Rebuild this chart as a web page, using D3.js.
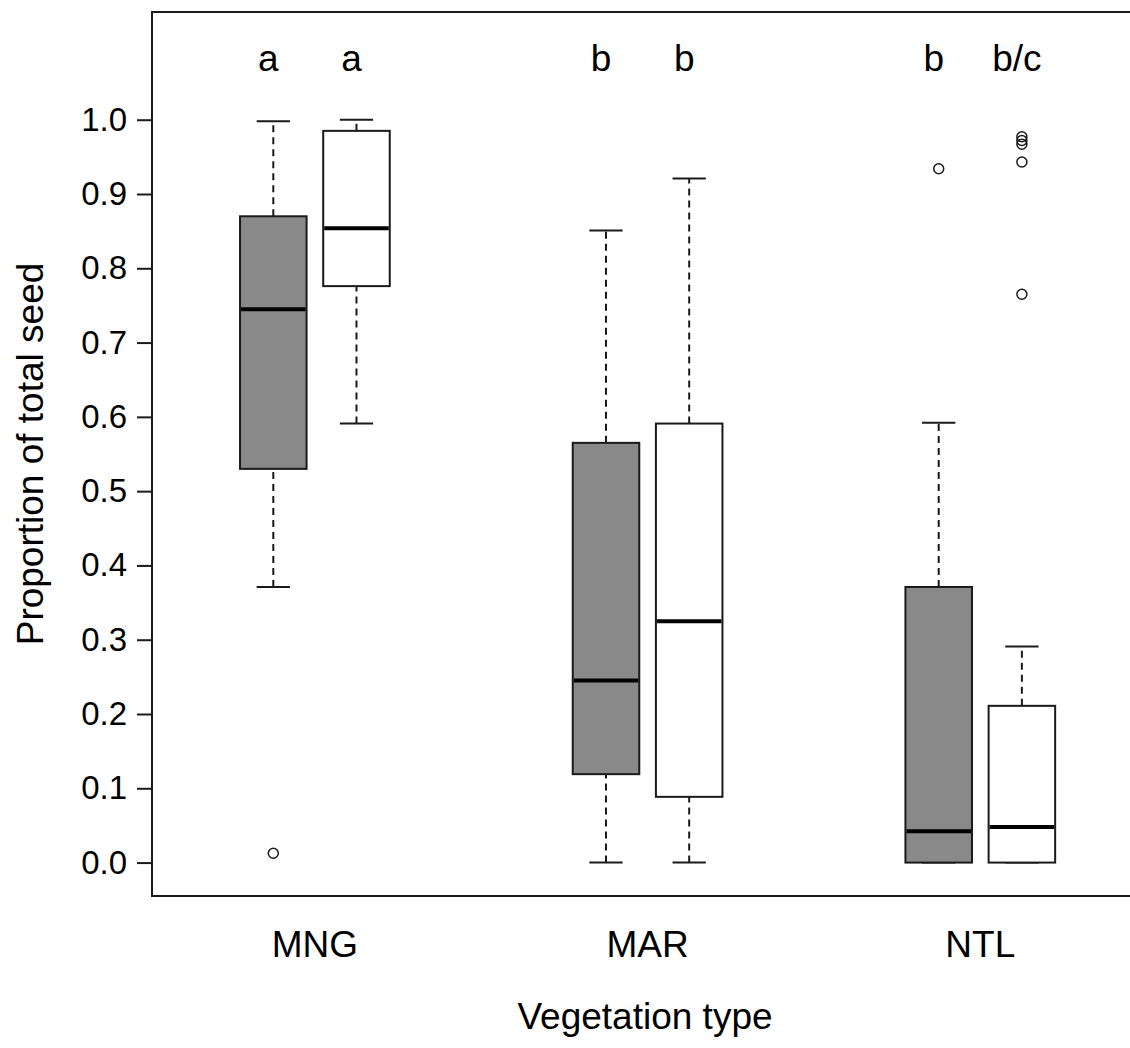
<!DOCTYPE html>
<html>
<head>
<meta charset="utf-8">
<script src="https://cdn.jsdelivr.net/npm/d3@7"></script>
<style>
  html, body { margin: 0; padding: 0; background: #ffffff; }
  svg { display: block; font-family: Arial, "Liberation Sans", sans-serif; }
</style>
</head>
<body>
<svg id="chart" width="1130" height="1048"></svg>
<script>
// ---- data ----
const categories = ["MNG", "MAR", "NTL"];
const yTicks = [0.0, 0.1, 0.2, 0.3, 0.4, 0.5, 0.6, 0.7, 0.8, 0.9, 1.0];

// shaded (grey) series
const greyLow  = [0.371, 0.000, 0.000];
const greyQ1   = [0.530, 0.119, 0.000];
const greyMed  = [0.745, 0.245, 0.042];
const greyQ3   = [0.870, 0.565, 0.371];
const greyHigh = [0.998, 0.851, 0.592];
const greyOut  = [[0.0125], [], [0.934]];
const greyLetters = ["a", "b", "b"];

// open (white) series
const whiteLow  = [0.591, 0.000, 0.000];
const whiteQ1   = [0.776, 0.0885, 0.000];
const whiteMed  = [0.854, 0.325, 0.048];
const whiteQ3   = [0.985, 0.591, 0.211];
const whiteHigh = [1.000, 0.921, 0.291];
const whiteOut  = [[], [], [0.977, 0.972, 0.967, 0.943, 0.765]];
const whiteLetters = ["a", "b", "b/c"];

const xTitle = "Vegetation type";
const yTitle = "Proportion of total seed";

// ---- layout ----
const svg = d3.select("#chart");
const plot = { left: 152, right: 1138, top: 12, bottom: 896 };

const x = d3.scaleLinear().domain([0.6354, 3.599]).range([plot.left, plot.right]);
const y = d3.scaleLinear().domain([-0.045, 1.145]).range([plot.bottom, plot.top]);

const boxW = 0.2;     // in x units
const seriesOffset = [0, 0.25];

const series = [
  { fill: "#898989", low: greyLow, q1: greyQ1, med: greyMed, q3: greyQ3, high: greyHigh, out: greyOut, letters: greyLetters },
  { fill: "#ffffff", low: whiteLow, q1: whiteQ1, med: whiteMed, q3: whiteQ3, high: whiteHigh, out: whiteOut, letters: whiteLetters }
];

const boxes = [];
series.forEach((s, si) => {
  categories.forEach((c, ci) => {
    boxes.push({
      cx: ci + 1 + seriesOffset[si],
      fill: s.fill,
      low: s.low[ci], q1: s.q1[ci], med: s.med[ci], q3: s.q3[ci], high: s.high[ci],
      out: s.out[ci], letter: s.letters[ci]
    });
  });
});

const ink = "#1a1a1a";
const g = svg.append("g");

// whiskers (dashed)
boxes.forEach(b => {
  const px = x(b.cx);
  if (b.high > b.q3) {
    g.append("line").attr("x1", px).attr("x2", px).attr("y1", y(b.q3)).attr("y2", y(b.high))
      .attr("stroke", ink).attr("stroke-width", 2).attr("stroke-dasharray", "7,5");
  }
  if (b.q1 > b.low) {
    g.append("line").attr("x1", px).attr("x2", px).attr("y1", y(b.low)).attr("y2", y(b.q1))
      .attr("stroke", ink).attr("stroke-width", 2).attr("stroke-dasharray", "7,5");
  }
  // staples
  const half = (x(b.cx + boxW / 2) - x(b.cx)) / 2;
  [b.low, b.high].forEach(v => {
    g.append("line").attr("x1", px - half).attr("x2", px + half).attr("y1", y(v)).attr("y2", y(v))
      .attr("stroke", ink).attr("stroke-width", 2);
  });
  // box
  g.append("rect")
    .attr("x", x(b.cx - boxW / 2)).attr("width", x(b.cx + boxW / 2) - x(b.cx - boxW / 2))
    .attr("y", y(b.q3)).attr("height", y(b.q1) - y(b.q3))
    .attr("fill", b.fill).attr("stroke", ink).attr("stroke-width", 2);
  // median
  g.append("line").attr("x1", x(b.cx - boxW / 2) + 1).attr("x2", x(b.cx + boxW / 2) - 1)
    .attr("y1", y(b.med)).attr("y2", y(b.med))
    .attr("stroke", "#000").attr("stroke-width", 4);
  // outliers
  b.out.forEach(v => {
    g.append("circle").attr("cx", px).attr("cy", y(v)).attr("r", 5)
      .attr("fill", "none").attr("stroke", ink).attr("stroke-width", 1.5);
  });
  // significance letters
  g.append("text").attr("x", px - 5).attr("y", 71)
    .attr("text-anchor", "middle").attr("font-size", 37).attr("fill", "#000")
    .text(b.letter);
});

// frame (right side lies just beyond the window)
svg.append("rect")
  .attr("x", plot.left).attr("y", plot.top)
  .attr("width", plot.right - plot.left).attr("height", plot.bottom - plot.top)
  .attr("fill", "none").attr("stroke", ink).attr("stroke-width", 2);

// y axis
const yAxis = d3.axisLeft(y).tickValues(yTicks).tickFormat(d3.format(".1f")).tickSize(15).tickPadding(10);
const ya = svg.append("g").attr("transform", `translate(${plot.left},0)`).call(yAxis);
ya.select(".domain").remove();
ya.selectAll(".tick line").attr("stroke", ink).attr("stroke-width", 2);
ya.selectAll(".tick text").attr("font-size", 33).attr("fill", "#000")
  .attr("font-family", "Arial, 'Liberation Sans', sans-serif");

// category labels
categories.forEach((c, ci) => {
  svg.append("text")
    .attr("x", x(ci + 1 + seriesOffset[1] / 2)).attr("y", 957)
    .attr("text-anchor", "middle").attr("font-size", 37).attr("fill", "#000")
    .text(c);
});

// axis titles
svg.append("text")
  .attr("x", (plot.left + plot.right) / 2).attr("y", 1029)
  .attr("text-anchor", "middle").attr("font-size", 37).attr("fill", "#000")
  .text(xTitle);

svg.append("text")
  .attr("transform", `translate(43,${(plot.top + plot.bottom) / 2}) rotate(-90)`)
  .attr("text-anchor", "middle").attr("font-size", 37).attr("fill", "#000")
  .text(yTitle);
</script>
</body>
</html>
